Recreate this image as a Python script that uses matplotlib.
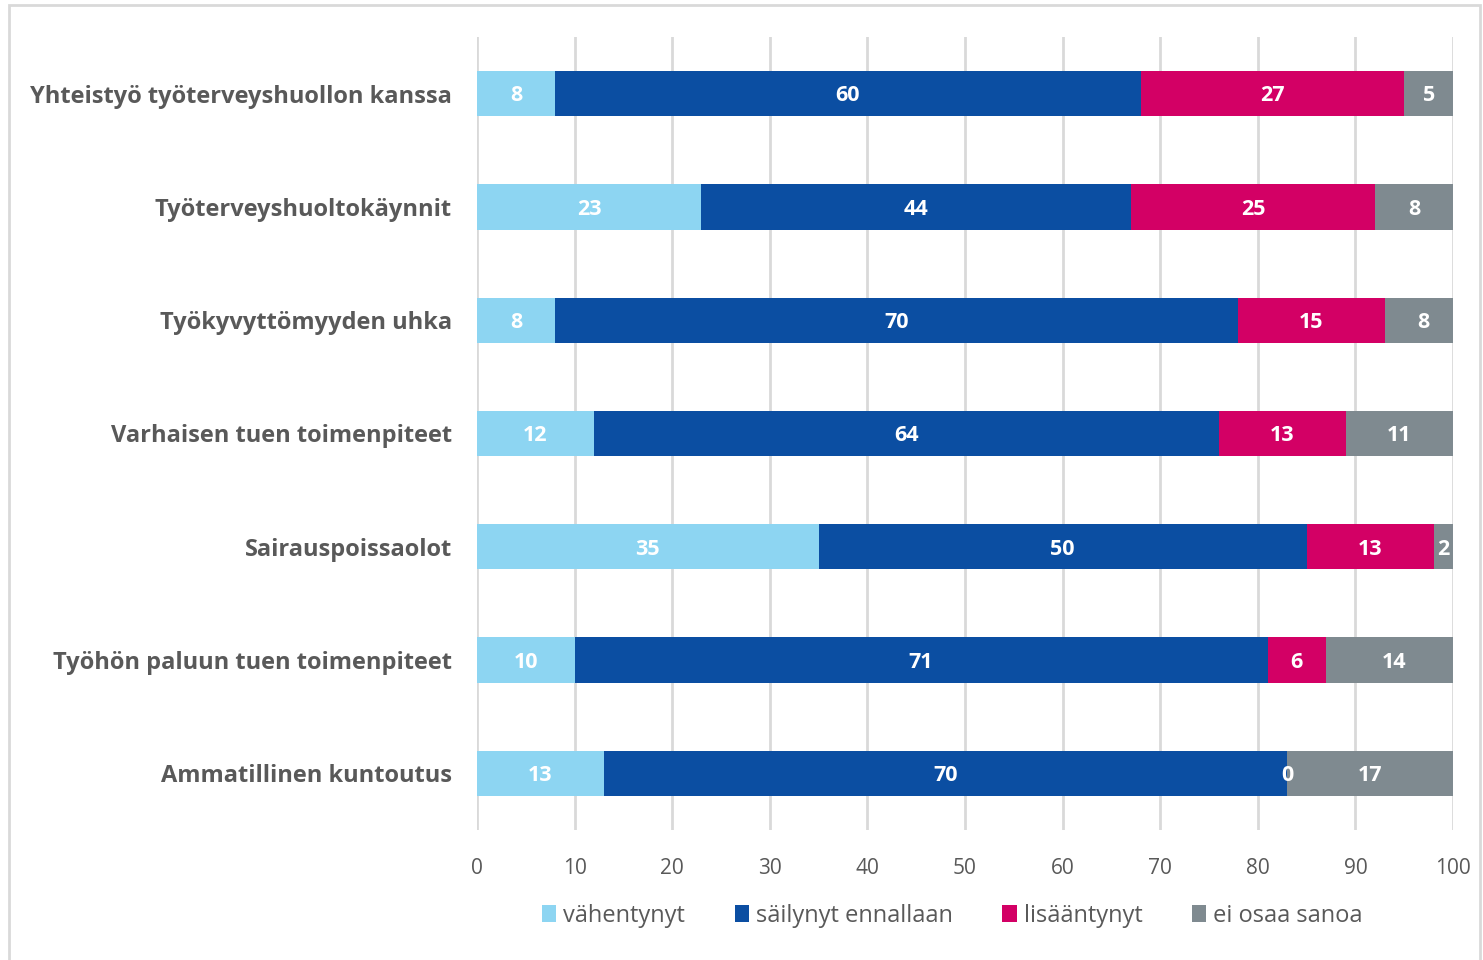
import numpy as np
import matplotlib.pyplot as plt
from matplotlib.patches import Rectangle

categories = [
    "Yhteistyö työterveyshuollon kanssa",
    "Työterveyshuoltokäynnit",
    "Työkyvyttömyyden uhka",
    "Varhaisen tuen toimenpiteet",
    "Sairauspoissaolot",
    "Työhön paluun tuen toimenpiteet",
    "Ammatillinen kuntoutus",
]
series_names = ["vähentynyt", "säilynyt ennallaan", "lisääntynyt", "ei osaa sanoa"]
vahentynyt = [8, 23, 8, 12, 35, 10, 13]
sailynyt = [60, 44, 70, 64, 50, 71, 70]
lisaantynyt = [27, 25, 15, 13, 13, 6, 0]
ei_osaa = [5, 8, 8, 11, 2, 14, 17]
colors = ["#8DD5F2", "#0B4EA2", "#D30065", "#7F8A90"]

plt.rcParams['font.family'] = ['Open Sans', 'DejaVu Sans']

fig = plt.figure(figsize=(14.83, 9.6), dpi=100)
ax = fig.add_axes([0.3216, 0.1354, 0.6582, 0.8261])
fig.patches.append(Rectangle((0.006, -0.01), 0.992, 1.005, transform=fig.transFigure,
                             fill=False, edgecolor="#D9D9D9", linewidth=2))

y = np.arange(len(categories))
left = np.zeros(len(categories))
for name, vals, col in zip(series_names, [vahentynyt, sailynyt, lisaantynyt, ei_osaa], colors):
    vals = np.array(vals, dtype=float)
    bars = ax.barh(y, vals, left=left, height=0.4, color=col, label=name, zorder=3)
    for b, v, l in zip(bars, vals, left):
        ax.text(l + v / 2, b.get_y() + b.get_height() / 2 + 0.02, f"{int(v)}",
                ha="center", va="center", color="white", fontsize=15.5,
                fontweight="bold", zorder=4)
    left += vals

ax.set_ylim(len(categories) - 0.5, -0.5)
ax.set_xlim(0, 100)
ax.set_xticks(np.arange(0, 101, 10))
ax.set_yticks(y)
ax.set_yticklabels(categories, fontsize=17, fontweight="bold", color="#595959")
ax.tick_params(axis="x", labelsize=15, labelcolor="#595959", length=0, pad=20)
ax.tick_params(axis="y", length=0, pad=18)
ax.grid(axis="x", color="#D9D9D9", linewidth=2, zorder=0)
for s in ax.spines.values():
    s.set_visible(False)

ax.legend(loc="upper center", bbox_to_anchor=(0.487, -0.066), ncol=4, frameon=False,
          fontsize=17, labelcolor="#595959", handlelength=0.6, handleheight=0.7,
          handletextpad=0.3, columnspacing=2.1)

fig.savefig("out.png", dpi=100)
